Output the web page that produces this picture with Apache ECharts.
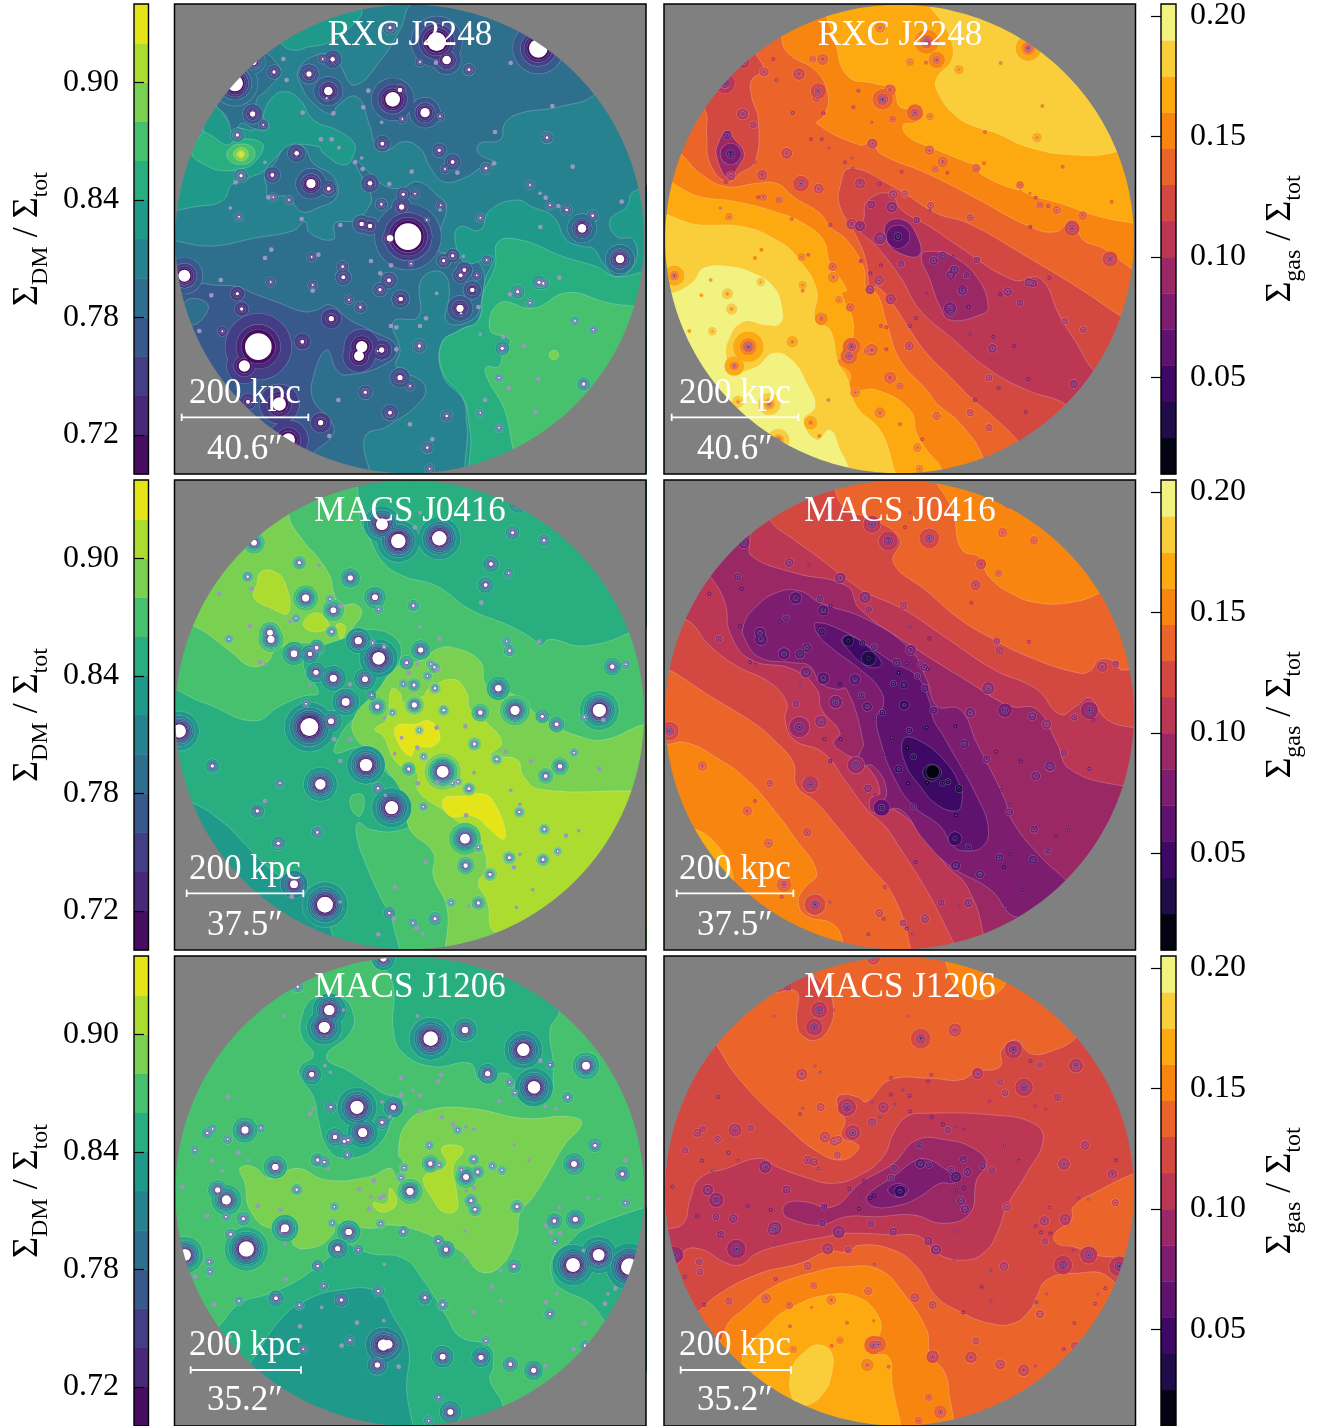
<!DOCTYPE html>
<html><head><meta charset="utf-8">
<style>html,body{margin:0;padding:0;background:#fff}#c{width:1317px;height:1426px}</style>
<script src="https://cdn.jsdelivr.net/npm/echarts@6/dist/echarts.min.js"></script>
</head><body><div id="c"></div>
<script>
// colour bars
const dmEdges=[0.70,0.72,0.74,0.76,0.78,0.80,0.82,0.84,0.86,0.88,0.90,0.92,0.94];
const dmColors=['#470d60','#482878','#433e85','#38598c','#2e6f8e','#26828e','#1f9a8a','#29af7f','#48c16e','#7ad151','#addc30','#e4e419'];
const dmTicks=[0.72,0.78,0.84,0.90];
const gasEdges=[0.01,0.025,0.04,0.055,0.07,0.085,0.10,0.115,0.13,0.145,0.16,0.175,0.19,0.205];
const gasColors=['#030312','#210c4a','#3d0965','#5f136e','#7c1d6f','#9a2865','#bc3754','#d44842','#eb652a','#f8850f','#fcaa0f','#f9ce3a','#f2f281'];
const gasTicks=[0.05,0.10,0.15,0.20];
const clusterNames=['RXC J2248','MACS J0416','MACS J1206'];
const scaleKpc='200 kpc';
const scaleArcsec=['40.6″','37.5″','35.2″'];

// member galaxies [x, y, core size], read in 3x crop pixels
const gal2248=[[265,1040,40],[223,1098,17],[714,710,40],[660,715,10],[575,672,7],[600,678,7],[800,125,28],[830,180,13],[1105,145,28],[668,298,22],[690,270,7],[765,338,14],[475,273,13],[470,295,3],[417,222,8],[488,178,7],[458,177,3],[248,342,8],[312,216,5],[195,250,24],[250,185,10],[340,177,2],[350,240,2],[280,374,3],[202,405,5],[213,527,5],[197,547,2],[380,460,7],[307,525,6],[423,551,14],[476,566,6],[285,487,1],[310,592,3],[295,592,2],[357,600,3],[207,650,3],[395,657,2],[511,675,2],[600,550,7],[634,613,4],[700,583,5],[735,581,3],[695,621,8],[770,660,3],[812,616,3],[637,431,6],[580,322,2],[595,272,2],[490,340,2],[398,338,2],[453,418,2],[485,418,2],[507,443,1],[555,487,2],[578,507,2],[575,474,1],[658,552,2],[725,515,2],[808,451,5],[848,486,6],[825,507,3],[862,518,2],[948,505,4],[972,490,2],[635,367,1],[697,357,3],[810,349,3],[750,186,3],[798,188,2],[897,209,4],[1022,189,2],[660,83,5],[1147,318,2],[975,396,2],[1131,413,4],[1208,500,2],[1080,555,3],[1110,580,1],[1127,593,2],[1140,616,3],[1165,618,2],[1190,630,4],[1268,647,4],[1236,685,13],[1355,605,2],[1111,681,2],[931,653,3],[1350,777,13],[950,780,3],[848,767,5],[821,782,5],[880,769,1],[883,810,6],[872,826,6],[920,826,3],[907,870,7],[870,925,11],[873,940,3],[925,921,2],[1043,875,5],[1020,883,2],[1107,847,5],[1120,850,4],[1080,908,3],[1168,833,2],[1215,963,3],[1270,989,3],[1000,1010,2],[997,1045,5],[1062,1038,2],[931,1003,1],[987,1133,3],[1105,1137,2],[1241,1152,5],[1016,1165,2],[945,1200,2],[931,1238,3],[1097,1237,2],[987,1283,3],[830,1248,4],[772,1343,4],[787,1318,2],[779,1406,3],[720,1273,2],[748,1038,5],[768,955,2],[750,978,2],[663,978,2],[679,982,2],[679,1048,2],[690,1133,8],[720,1158,3],[586,1177,5],[505,1200,2],[660,1238,6],[452,1268,8],[478,1308,2],[328,1212,20],[234,1205,6],[355,1320,20],[484,956,8],[215,927,5],[397,1025,6],[157,994,3],[88,993,2],[124,886,2],[202,881,5],[152,840,2],[43,827,18],[302,846,3],[428,855,3],[428,872,2],[520,832,6],[518,800,4],[537,899,3],[571,922,4],[631,820,2],[657,841,6],[630,869,5],[692,897,7],[663,796,2],[723,791,3],[603,783,2],[425,771,3],[445,764,2],[285,774,2],[304,749,2],[800,880,1],[810,630,1],[575,1040,17],[567,1068,15],[635,1050,8],[623,1053,3],[181,624,1]];
const gal0416=[[636,145,18],[685,195,22],[808,187,22],[750,110,1],[735,154,2],[1028,170,5],[1122,193,4],[963,264,6],[1016,292,3],[947,327,6],[934,380,2],[252,200,9],[388,260,5],[447,268,1],[233,302,4],[245,338,2],[148,353,2],[541,306,8],[407,366,11],[480,369,3],[512,390,2],[490,403,9],[615,364,9],[626,400,3],[730,389,4],[360,437,1],[378,427,3],[240,451,2],[177,489,3],[300,470,9],[303,490,11],[485,467,4],[750,452,1],[808,488,2],[565,494,11],[608,501,3],[642,513,3],[626,547,19],[1010,496,3],[1107,497,2],[1019,524,4],[752,522,8],[372,533,10],[420,534,7],[440,515,6],[270,559,2],[287,565,1],[710,560,5],[782,564,3],[793,574,4],[803,580,2],[741,563,1],[716,590,2],[438,589,8],[490,607,11],[585,610,9],[772,600,3],[700,623,3],[732,627,5],[795,637,4],[420,627,1],[540,625,2],[985,637,10],[1327,572,7],[1367,565,3],[605,658,3],[527,678,12],[622,692,7],[733,687,8],[821,703,4],[931,710,7],[1035,703,14],[1117,721,5],[1160,745,6],[1288,703,20],[1243,724,3],[1300,732,2],[408,683,3],[418,753,27],[483,736,9],[667,710,3],[643,726,1],[748,763,3],[800,755,2],[886,751,2],[695,785,1],[493,790,2],[541,790,2],[913,804,5],[742,815,2],[674,833,1],[761,842,3],[1008,827,2],[1212,830,3],[980,850,4],[1083,856,2],[511,855,2],[588,867,19],[716,879,5],[818,887,18],[1170,871,7],[1127,900,6],[1288,878,2],[28,765,20],[127,870,5],[451,925,16],[330,922,3],[801,920,2],[847,922,3],[864,917,3],[897,938,5],[912,890,1],[624,937,4],[744,922,2],[262,1005,5],[285,975,2],[665,995,20],[646,958,1],[760,992,3],[1048,1008,4],[1022,943,1],[1050,985,1],[888,1018,2],[442,1069,4],[325,1102,5],[885,1088,15],[925,1114,3],[1123,1060,4],[1188,1079,2],[1226,1064,1],[1018,1145,5],[1050,1135,1],[1032,1174,2],[1119,1151,5],[1163,1126,3],[887,1169,7],[960,1195,5],[767,1159,2],[372,1225,12],[365,1262,2],[465,1286,24],[510,1278,1],[675,1233,2],[1088,1241,1],[843,1280,3],[896,1290,1],[925,1281,5],[1039,1294,1],[658,1311,4],[671,1328,2],[795,1328,5],[729,1341,3],[740,1357,2],[758,1373,1],[625,1375,2],[1045,80,8]];
const gal1206=[[640,25,10],[383,110,4],[478,180,16],[463,232,17],[520,180,1],[342,198,1],[743,198,1],[782,266,22],[885,240,10],[1060,299,19],[1140,344,3],[1111,332,2],[1248,347,12],[1092,412,19],[953,371,8],[425,373,8],[465,347,1],[481,367,1],[693,384,2],[814,374,2],[804,394,2],[1019,397,3],[1035,428,3],[175,441,2],[728,421,1],[693,434,2],[749,437,2],[704,462,1],[988,454,1],[1193,442,4],[1126,469,1],[1157,476,1],[561,472,20],[670,472,8],[482,471,4],[428,475,1],[420,493,2],[636,456,1],[660,500,1],[636,517,5],[750,484,2],[815,502,2],[225,540,11],[272,534,3],[128,537,3],[112,549,4],[173,568,3],[578,548,14],[495,561,7],[523,574,5],[535,570,4],[849,523,2],[863,540,3],[888,530,1],[911,538,1],[75,601,3],[205,608,2],[532,615,3],[778,586,3],[1275,586,5],[1033,585,1],[126,632,2],[316,651,10],[443,630,5],[463,636,4],[475,656,1],[157,662,1],[235,631,1],[781,641,7],[807,645,3],[911,628,4],[1212,642,9],[1367,631,2],[967,648,3],[996,661,3],[1076,631,1],[702,653,3],[874,659,3],[888,681,9],[923,666,5],[693,683,3],[612,692,2],[1357,672,6],[37,710,2],[143,720,8],[169,750,14],[380,719,4],[568,717,2],[720,724,11],[912,714,2],[889,722,1],[1255,743,1],[1286,747,1],[1366,758,3],[642,737,2],[631,744,2],[603,740,1],[903,752,5],[915,778,5],[263,767,2],[332,779,2],[493,770,3],[597,776,2],[1041,770,5],[1168,772,1],[111,798,2],[168,800,3],[220,806,5],[487,819,3],[632,821,3],[1216,808,8],[1153,813,6],[345,835,12],[337,842,5],[700,845,4],[536,846,10],[182,853,4],[1127,828,2],[1143,847,2],[1171,850,2],[1155,874,3],[805,873,4],[828,899,7],[885,843,1],[229,897,23],[503,896,8],[565,899,3],[345,882,1],[45,915,18],[118,935,3],[120,965,3],[75,980,2],[443,948,4],[643,943,1],[1032,949,5],[883,927,1],[1209,945,21],[1286,915,18],[1378,950,25],[1240,901,1],[992,961,1],[461,1007,3],[347,987,2],[965,1010,2],[625,1023,4],[318,1045,6],[514,1050,5],[207,1053,3],[765,1043,5],[818,1064,4],[388,1066,3],[1160,1031,1],[1336,1015,2],[1314,1032,1],[1129,1057,2],[1305,1061,2],[993,1053,1],[910,1087,2],[1140,1092,4],[132,1064,2],[455,1072,1],[390,1129,2],[1243,1119,2],[561,1118,2],[641,1112,1],[948,1172,3],[1245,1187,4],[1211,1198,2],[540,1171,3],[515,1187,2],[640,1185,17],[655,1183,13],[400,1198,3],[180,1160,1],[622,1245,8],[686,1250,2],[818,1220,9],[933,1222,8],[1021,1243,6],[1091,1261,8],[1126,1247,1],[806,1342,3],[841,1386,9],[776,1412,3]];
const gasExtra2248=[[212,462,30]];

// contour regions [band index, flat x,y list], painted in order
const dm2248=[
[4,[735,10,1040,40,1300,200,1278,280,1170,320,1050,340,1005,370,990,420,930,430,925,460,980,490,940,500,880,535,820,545,780,500,750,445,700,425,650,450,615,430,600,380,560,290,500,320,490,345,430,310,395,260,385,210,440,165,500,170,510,195,555,255,640,170,690,90]],
[6,[330,120,365,150,420,140,470,130,520,100,575,28,480,0,330,50]],
[6,[-40,617,100,617,160,600,185,555,250,528,280,515,300,490,360,440,445,440,460,460,525,495,555,450,545,420,500,390,430,360,390,300,345,275,300,300,260,385,215,385,180,370,140,320,60,300,-40,460]],
[7,[100,382,65,458,110,497,160,512,220,505,250,490,280,440,255,420,200,420,170,435,130,410,60,370]],
[8,[170,463,185,440,213,432,245,440,255,463,240,487,213,493,185,487]],
[9,[190,463,200,447,213,443,228,447,235,463,228,478,213,483,200,478]],
[10,[200,463,207,453,213,451,221,455,224,463,220,472,213,475,206,472]],
[11,[206,463,213,456,220,463,213,470]],
[4,[140,310,200,250,240,200,280,160,320,190,330,220,290,270,260,300,265,340,295,370,290,390,250,385,215,370,190,400,170,350]],
[4,[-50,735,130,738,250,715,370,692,405,665,420,700,490,718,495,670,555,660,600,615,600,575,565,510,555,480,590,510,640,555,690,565,745,545,800,585,830,620,800,745,870,765,935,800,935,900,905,960,830,965,838,880,825,825,785,815,750,850,745,950,670,965,690,1050,680,1100,760,1150,755,1200,650,1280,585,1310,580,1450,0,1450,-50,900]],
[4,[285,525,310,495,350,440,400,440,430,490,490,530,500,590,440,625,395,635,350,590,295,590,290,560]],
[3,[-40,860,90,850,130,855,200,860,250,880,330,910,400,935,440,930,480,915,540,960,600,990,680,1040,650,1090,530,1125,500,1110,470,1050,430,1130,430,1200,480,1260,490,1300,430,1360,350,1450,-40,1450]],
[4,[45,905,90,898,115,925,70,975,45,940]],
[6,[1500,560,1390,575,1370,620,1320,660,1340,710,1390,720,1395,790,1340,830,1300,790,1270,745,1240,740,1190,720,1150,650,1085,620,1040,600,960,630,930,690,870,680,855,720,890,790,970,770,945,840,925,960,870,990,815,1030,820,1130,880,1200,890,1270,920,1450,1500,1450]],
[7,[1500,820,1340,830,1280,800,1180,770,1060,722,985,725,975,800,940,880,925,960,870,990,815,1030,820,1120,880,1195,900,1290,930,1450,1500,1450]],
[8,[990,908,1090,925,1190,878,1300,905,1450,950,1320,1120,1220,1260,1060,1380,1000,1220,950,1130,950,1100,985,1100,1000,1060,1020,1020,960,990]],
[9,[1138,1065,1142,1055,1152,1051,1162,1055,1166,1065,1162,1075,1152,1079,1142,1075]]
];
const gas2248=[
[10,[515,-20,530,140,565,230,640,250,700,270,720,320,780,330,770,365,730,375,745,410,820,445,930,490,965,500,960,520,1075,570,1080,550,1090,575,1200,610,1320,650,1425,670,1500,680,1500,-20]],
[11,[810,-20,870,110,875,180,830,235,835,280,890,350,960,385,1010,400,1100,440,1240,465,1370,455,1500,400,1500,-20]],
[10,[-30,545,120,590,230,605,360,640,430,670,490,720,510,790,560,870,545,880,580,970,560,1060,530,1085,570,1120,570,1170,650,1170,750,1230,770,1300,800,1350,845,1410,845,1500,-30,1500]],
[11,[-30,660,120,675,250,680,350,720,410,770,470,870,465,960,510,990,535,1090,560,1130,590,1220,660,1290,700,1400,720,1500,-30,1500]],
[12,[-30,885,35,880,100,845,130,805,210,800,280,820,340,860,365,920,360,970,320,975,250,965,205,1020,200,1080,220,1115,290,1100,340,1060,395,1080,440,1150,465,1220,430,1260,470,1320,510,1290,540,1350,565,1405,580,1500,-30,1500]],
[8,[-30,-30,365,-30,365,108,385,160,470,215,505,290,490,350,470,370,600,435,640,425,660,460,800,520,930,585,1110,680,1190,695,1235,660,1270,720,1330,745,1420,810,1500,860,1500,1500,990,1500,970,1375,900,1270,830,1210,800,1170,720,1080,680,970,650,880,620,870,610,800,560,720,510,680,480,640,400,590,350,550,290,550,200,560,120,520,60,460,-30,400]],
[7,[135,330,140,400,150,490,200,545,240,520,285,485,295,360,275,290,275,240,310,210,290,165,240,60,60,240]],
[5,[200,392,225,420,252,460,235,500,205,535,170,470,175,430]],
[7,[570,505,700,560,830,640,925,670,1100,770,1250,860,1385,950,1500,1020,1500,1500,1120,1400,1075,1325,1000,1250,940,1200,870,1130,800,1060,750,990,690,900,650,860,630,870,620,790,590,710,540,620,540,560]],
[6,[620,605,690,580,725,630,810,680,890,735,1060,840,1140,835,1200,950,1250,1030,1300,1110,1500,1300,1300,1300,1220,1215,1100,1170,990,1110,870,1010,780,930,720,830,650,740,590,680,610,660]],
[4,[680,670,730,660,770,705,778,765,720,760,680,720]],
[5,[785,765,830,755,880,770,950,830,985,920,960,945,870,960,840,920,810,840]]
];
const dm0416=[
[7,[600,-30,570,120,600,190,640,260,700,300,800,330,900,400,1020,450,1090,490,1110,510,1140,490,1240,510,1380,470,1500,400,1500,-30]],
[9,[355,-30,355,115,400,195,440,240,480,300,490,345,510,385,555,385,575,410,540,470,530,520,500,545,470,520,400,500,320,520,290,560,240,570,180,525,70,450,-30,430,-30,-30]],
[10,[270,290,310,285,345,320,355,410,300,395,252,365,262,320]],
[10,[400,440,440,410,475,440,470,460,420,465]],
[10,[500,445,525,450,515,490,505,470]],
[7,[-30,650,100,680,250,735,330,690,400,660,445,650,400,570,420,530,540,480,600,460,680,490,690,550,640,620,620,680,550,730,510,780,495,830,560,815,610,820,640,880,690,930,720,1040,680,1065,600,1060,565,1040,560,1080,590,1170,640,1280,665,1320,665,1500,-30,1500]],
[8,[545,960,580,960,570,1020,545,1000]],
[6,[-30,960,65,980,160,1040,230,1110,290,1170,350,1210,420,1240,480,1350,480,1500,-30,1500]],
[9,[550,730,625,640,680,575,760,550,800,520,850,515,930,555,950,630,1030,655,1120,730,1240,785,1310,790,1425,745,1500,745,1500,1500,860,1500,830,1290,790,1200,790,1130,720,1060,700,960,650,880,610,830,560,790]],
[10,[665,640,690,650,700,680,760,660,775,640,850,610,890,650,900,700,950,740,995,800,960,840,1040,850,1060,900,1110,940,1390,945,1500,950,1500,1300,985,1370,950,1270,925,1220,950,1180,930,1100,830,1010,745,945,740,890,680,860,640,780,615,760,650,730]],
[11,[680,750,735,745,780,735,810,780,790,810,740,815,720,840,680,790]],
[11,[820,970,880,960,945,955,975,985,1005,1060,1000,1090,960,1060,910,1020,840,1020]]
];
const gas0416=[
[9,[830,-30,880,110,905,220,960,245,985,300,1050,350,1130,380,1240,378,1320,350,1500,250,1500,-30]],
[9,[-30,805,20,805,80,800,170,845,260,910,340,1000,400,1080,470,1190,430,1240,415,1280,440,1320,520,1345,550,1405,560,1500,-30,1500]],
[10,[100,1060,220,1215,100,1300,20,1200]],
[7,[-30,-30,525,-30,525,40,560,100,640,130,720,190,700,260,800,345,900,430,1000,490,1100,540,1250,590,1290,585,1320,550,1370,560,1380,580,1420,580,1500,580,1500,1500,755,1500,750,1410,700,1260,620,1160,530,1050,470,980,410,930,400,860,340,790,280,740,150,660,25,580,-30,560]],
[6,[-30,430,75,430,150,510,230,570,330,620,380,680,375,730,400,790,490,830,560,920,620,1000,690,1070,880,1400,890,1500,1500,1500,1500,755,1425,755,1340,730,1290,665,1250,690,1200,715,1130,640,1000,580,850,480,730,400,620,350,560,310,470,240,400,190,330,130,330,60,-30,130]],
[5,[150,300,100,250,270,150,270,190,275,240,400,290,560,330,600,400,740,500,930,620,1050,690,1130,700,1190,800,1230,880,1390,930,1500,930,1500,1500,970,1500,970,1375,920,1230,860,1170,800,1090,700,1000,640,1010,630,970,660,950,620,870,550,830,520,800,540,770,485,700,470,640,400,580,270,550,210,470,195,380]],
[4,[250,450,280,400,350,350,420,345,480,380,620,430,750,520,800,610,830,690,900,700,950,800,1030,960,1060,1040,1140,1140,1220,1215,1300,1300,1075,1325,990,1240,870,1170,790,1090,720,1000,650,1010,680,950,640,870,590,870,600,830,610,800,560,640,530,640,480,620,450,570,400,560,300,545,255,490]],
[3,[470,440,560,470,640,520,700,560,770,600,810,680,820,730,850,780,960,980,985,1060,970,1110,920,1125,880,1110,840,1050,760,990,700,900,660,790,650,720,670,690,660,640,600,580,520,520,470,470]],
[2,[730,790,770,790,850,850,900,930,905,980,890,1005,830,985,780,930,735,860]],
[2,[545,490,570,480,620,510,665,560,650,575,610,565,560,515]],
[1,[790,880,820,865,845,890,820,915,795,905]]
];
const dm1206=[
[7,[580,-30,640,50,670,110,670,240,700,310,790,350,900,340,930,390,1010,370,1050,430,1130,450,1150,360,1140,240,1165,175,1000,-30]],
[7,[395,200,430,145,510,140,550,190,540,250,470,320,540,365,610,410,640,430,700,450,680,480,620,590,520,625,470,590,445,510,430,440,390,380,390,350,430,315,395,260]],
[7,[100,1170,145,1130,210,1060,300,1030,400,980,500,900,510,875,600,910,700,925,760,990,830,1100,870,1160,960,1190,970,1250,960,1290,1000,1370,1000,1500,100,1500]],
[6,[180,1300,240,1240,330,1110,410,1050,510,1020,620,1025,670,1100,715,1190,710,1300,700,1500,180,1500]],
[7,[1500,750,1430,770,1240,840,1200,875,1150,920,1150,990,1180,1020,1260,1060,1310,1120,1500,1300]],
[9,[685,610,710,520,780,480,900,475,1060,505,1200,500,1235,520,1180,590,1140,660,1090,740,1050,790,1040,860,990,950,930,965,880,910,830,880,740,840,660,825,600,835,500,820,490,850,440,890,370,885,380,820,300,835,240,780,225,700,210,655,250,650,300,685,380,655,470,690,600,680,660,655,680,680,700,640]],
[10,[815,595,850,585,880,600,850,650,860,730,860,780,820,785,790,750,760,690,780,665,830,645]],
[10,[610,760,650,760,660,715,680,750,670,775,630,785]]
];
const gas1206=[
[8,[170,285,240,390,380,530,480,610,545,630,590,605,595,585,545,560,555,510,530,460,540,435,590,440,620,455,690,390,810,385,900,390,950,365,1020,350,1025,300,1070,270,1110,310,1170,305,1250,262,1500,0,0,0]],
[7,[345,125,410,125,410,210,425,255,470,270,510,230,520,170,500,120,420,60]],
[9,[870,-30,880,100,940,145,1000,135,1040,90,1050,-30]],
[8,[1500,650,1425,670,1320,720,1240,770,1235,810,1185,850,1190,880,1240,890,1340,920,1500,900]],
[8,[115,1085,180,1030,300,970,420,940,500,905,560,905,600,885,700,900,770,950,830,1040,900,1085,990,1120,1060,1120,1110,1080,1130,1040,1160,990,1240,970,1350,985,1500,1200,1000,1500,60,1500,40,1150]],
[9,[195,1140,260,1070,340,1010,450,970,560,950,660,960,730,1030,800,1140,810,1210,855,1270,870,1350,880,1410,880,1500,100,1500]],
[10,[245,1240,330,1120,400,1070,500,1035,590,1040,650,1090,660,1150,620,1180,640,1210,685,1220,695,1280,695,1500,300,1500]],
[11,[395,1260,440,1200,480,1185,515,1210,515,1270,490,1330,440,1365,400,1350]],
[6,[-30,945,50,945,75,900,130,900,190,935,240,945,290,910,370,885,500,860,560,850,700,855,780,860,830,910,920,930,980,900,1015,840,1040,770,1100,670,1150,570,1120,520,1000,495,800,490,740,500,700,550,670,620,600,675,520,700,430,680,350,650,300,625,200,655,120,685,90,750,70,820,20,840,-30,870]],
[5,[380,760,430,755,520,770,600,700,700,640,770,570,860,570,940,595,980,640,950,690,930,790,850,820,760,795,650,800,560,800,480,825,400,810,370,790]],
[4,[620,740,700,680,770,630,810,630,860,660,900,680,880,700,840,700,780,740,720,765,640,770]],
[3,[683,720,715,700,745,720,715,742]]
];

const SERIF='"Liberation Serif",serif';
const colLeft=[174.5,664], rowTop=[4,480,956], boxW=471.5, boxH=470;
const originX=[170,660], originY=[0,476,950];
const barX=[134,1161], barW=[14.5,15];
const circleCY=[717,717,724], circleCX=[719,718.5], R=703;
const barEnds=[[35,415],[50,400],[62,393]], barY=[1252,1252,1260], kpcY=[1181,1181,1186], arcY=[1350,1350,1352];
const clusters=[
 {gal:gal2248,dm:dm2248,dmBase:5,gas:gas2248,gasBase:9,gasExtra:gasExtra2248},
 {gal:gal0416,dm:dm0416,dmBase:8,gas:gas0416,gasBase:8,gasExtra:[]},
 {gal:gal1206,dm:dm1206,dmBase:8,gas:gas1206,gasBase:7,gasExtra:[]}];

function pairs(f){const o=[];for(let i=0;i<f.length;i+=2)o.push([f[i],f[i+1]]);return o;}
function inside(pt,poly){let c=false;for(let i=0,j=poly.length-1;i<poly.length;j=i++){
  const a=poly[i],b=poly[j];
  if((a[1]>pt[1])!==(b[1]>pt[1])&&pt[0]<(b[0]-a[0])*(pt[1]-a[1])/(b[1]-a[1])+a[0])c=!c;}return c;}

const grid=[],xAxis=[],yAxis=[],series=[],title=[];
let gi=0;
function addCustom(idx,data,render,z,clip){series.push({type:'custom',xAxisIndex:idx,yAxisIndex:idx,coordinateSystem:'cartesian2d',
  data:data,renderItem:render,z:z,silent:true,clip:clip!==false,animation:false,encode:{x:0,y:1}});}

function addPanel(row,col){
  const cl=clusters[row], isDM=col===0;
  const colors=isDM?dmColors:gasColors;
  const polys=(isDM?cl.dm:cl.gas).map(p=>({level:p[0],pts:pairs(p[1])}));
  const base=isDM?cl.dmBase:cl.gasBase;
  const left=colLeft[col],top=rowTop[row];
  const xmin=(left-originX[col])*3,ymin=(top-originY[row])*3;
  const xmax=xmin+boxW*3,ymax=ymin+boxH*3;
  const cx=circleCX[col],cy=circleCY[row];
  const idx=gi++;
  grid.push({left:left,top:top,width:boxW,height:boxH,show:true,backgroundColor:'#808080',borderWidth:0,containLabel:false,outerBoundsMode:'none'});
  xAxis.push({type:'value',gridIndex:idx,min:xmin,max:xmax,show:false});
  yAxis.push({type:'value',gridIndex:idx,min:ymin,max:ymax,inverse:true,show:false});
  // filled contours
  const fills=[{level:base,circle:true}].concat(polys);
  addCustom(idx,fills.map((p,i)=>[cx,cy,i]),function(params,api){
    const p=fills[params.dataIndex];
    if(p.circle){const c=api.coord([cx,cy]);
      return {type:'circle',shape:{cx:c[0],cy:c[1],r:api.size([R+3,R+3])[0]},style:{fill:colors[p.level]}};}
    return {type:'polygon',shape:{points:p.pts.map(q=>api.coord(q)),smooth:0.45},
      style:{fill:colors[p.level],stroke:'rgba(255,255,255,0.3)',lineWidth:0.7}};
  },2);
  // depressions around member galaxies
  const levelAt=pt=>{let l=base;polys.forEach(p=>{if(inside(pt,p.pts))l=p.level;});return l;};
  const rings=[],dots=[],cores=[];
  const list=isDM?cl.gal:cl.gal.concat(cl.gasExtra);
  list.forEach(g=>{
    const x=g[0],y=g[1],c=g[2],b=levelAt([x,y]);
    if(c<=2){dots.push([x,y,(isDM?4:3)+c*1.5,isDM?-1:Math.max(b-2,0)]);
      if(!isDM)dots.push([x,y,2,-1]);return;}
    if(isDM){
      const Rout=6.5*Math.pow(c,0.74),n=b;
      for(let k=0;k<n;k++)rings.push([x,y,Rout*Math.pow(c/Rout,Math.pow(k/n,0.75)),b-1-k]);
      cores.push([x,y,c]);
    }else{
      const Rout=7.5*Math.sqrt(c)*(0.6+0.4*b/12),n=Math.max(2,Math.min(Math.round(2+c*0.3),b));
      for(let k=0;k<n;k++){const lv=b-1-k;if(lv>=0)rings.push([x,y,Rout*Math.pow(1.5/Rout,Math.pow(k/n,0.75)),lv]);}
    }
  });
  const ringRows=[];
  for(let l=colors.length-1;l>=0;l--){
    const set=rings.filter(r=>r[3]===l);
    set.forEach(r=>ringRows.push([r[0],r[1],r[2],l,1]));
    set.forEach(r=>ringRows.push([r[0],r[1],r[2],l,0]));
  }
  addCustom(idx,ringRows,function(params,api){
    const c=api.coord([api.value(0),api.value(1)]),s=api.value(2),l=api.value(3),st=api.value(4);
    const r=api.size([s,s])[0];
    return st?{type:'circle',shape:{cx:c[0],cy:c[1],r:r+0.3},style:{fill:'rgba(215,215,235,0.42)'}}
             :{type:'circle',shape:{cx:c[0],cy:c[1],r:Math.max(r-0.1,0.2)},style:{fill:colors[l]}};
  },3);
  addCustom(idx,dots,function(params,api){
    const c=api.coord([api.value(0),api.value(1)]),s=api.value(2),l=api.value(3);
    return {type:'circle',shape:{cx:c[0],cy:c[1],r:api.size([s,s])[0]},
      style:{fill:l<0?'#9c97c0':colors[l]}};
  },4);
  if(isDM)addCustom(idx,cores,function(params,api){
    const c=api.coord([api.value(0),api.value(1)]),s=api.value(2);
    return {type:'circle',shape:{cx:c[0],cy:c[1],r:api.size([s,s])[0]},style:{fill:'#fff'}};
  },5);
  // grey surround of the circular field
  addCustom(idx,[[cx,cy,-1],[cx,cy,1]],function(params,api){
    const side=api.value(2),pts=[],edge=side<0?xmin:xmax,seam=cx-side*2;
    pts.push([edge,ymin],[seam,ymin]);
    const n=120;
    for(let i=0;i<=n;i++){
      const t=-Math.PI/2+(i/n)*Math.PI;
      pts.push([cx+side*R*Math.cos(t),cy+R*Math.sin(t)]);
    }
    pts.push([seam,ymax],[edge,ymax]);
    return {type:'polygon',shape:{points:pts.map(q=>api.coord(q))},style:{fill:'#808080'}};
  },6);
  // frame, scale bar, labels
  const ends=barEnds[row],by=barY[row];
  addCustom(idx,[[ends[0],by,ends[1]]],function(params,api){
    const a=api.coord([ends[0],by]),b=api.coord([ends[1],by]),t=api.size([33,33])[1];
    const ln=(p,q)=>({type:'line',shape:{x1:p[0],y1:p[1],x2:q[0],y2:q[1]},style:{stroke:'#fff',lineWidth:1.8}});
    const tl=api.coord([xmin,ymin]),br=api.coord([xmax,ymax]);
    const lab=(x,y,s)=>{const c=api.coord([x,y]);return {type:'text',x:c[0],y:c[1],
      style:{text:s,fill:'#fff',fontFamily:SERIF,fontSize:35,textAlign:'center',textVerticalAlign:'middle'}};};
    return {type:'group',children:[
      {type:'rect',shape:{x:tl[0],y:tl[1],width:br[0]-tl[0],height:br[1]-tl[1]},style:{fill:'none',stroke:'#000',lineWidth:1.5}},
      ln(a,b),ln([a[0],a[1]-t/3],[a[0],a[1]+t/3]),ln([b[0],b[1]-t/3],[b[0],b[1]+t/3]),
      lab(225,kpcY[row],scaleKpc),lab(225,arcY[row],scaleArcsec[row])
    ]};
  },7,false);
  title.push({text:clusterNames[row],left:originX[col]+240,top:originY[row]+(row===2?105:100)/3-15,textAlign:'center',padding:0,
    textStyle:{color:'#fff',fontFamily:SERIF,fontSize:35,fontWeight:'normal'},z:9});
}
function addBar(row,col){
  const isDM=col===0,edges=isDM?dmEdges:gasEdges,colors=isDM?dmColors:gasColors,ticks=isDM?dmTicks:gasTicks;
  const idx=gi++;
  grid.push({left:barX[col],top:rowTop[row],width:barW[col],height:boxH,show:false,containLabel:false,outerBoundsMode:'none'});
  xAxis.push({type:'value',gridIndex:idx,min:0,max:1,show:false});
  const lo=edges[0],hi=edges[edges.length-1];
  yAxis.push({type:'value',gridIndex:idx,min:lo,max:hi,position:isDM?'left':'right',
    axisLine:{show:false},splitLine:{show:false},
    axisTick:{show:true,inside:true,length:10,customValues:ticks,lineStyle:{color:'#000',width:1.2}},
    axisLabel:{show:true,customValues:ticks,margin:isDM?15:14,color:'#000',fontFamily:SERIF,fontSize:32,
      formatter:v=>v.toFixed(2)},
    name:isDM?'{s|Σ}{b|DM}{s| / Σ}{b|tot}':'{s|Σ}{b|gas}{s| / Σ}{b|tot}',
    nameLocation:'middle',nameRotate:90,nameGap:isDM?88:87,
    nameTextStyle:{color:'#000',fontFamily:SERIF,fontSize:36,
      rich:{s:{fontFamily:SERIF,fontSize:36,color:'#000',verticalAlign:'bottom'},
            b:{fontFamily:SERIF,fontSize:24,color:'#000',verticalAlign:'bottom',padding:[0,0,-7,0]}}},
    z:8});
  const rows=colors.map((c,i)=>[0.5,edges[i],edges[i+1]]);
  addCustom(idx,rows,function(params,api){
    const i=params.dataIndex;
    const a=api.coord([0,edges[i+1]]),b=api.coord([1,edges[i]]);
    return {type:'rect',shape:{x:a[0],y:a[1],width:b[0]-a[0],height:b[1]-a[1]+0.4},style:{fill:colors[i]}};
  },2,false);
  addCustom(idx,[[0.5,lo]],function(params,api){
    const a=api.coord([0,hi]),b=api.coord([1,lo]);
    return {type:'rect',shape:{x:a[0],y:a[1],width:b[0]-a[0],height:b[1]-a[1]},style:{fill:'none',stroke:'#000',lineWidth:1.4}};
  },3,false);
}
for(let r=0;r<3;r++){addBar(r,0);addPanel(r,0);addPanel(r,1);addBar(r,1);}
const chart=echarts.init(document.getElementById('c'),null,{renderer:'canvas',width:1317,height:1426});
chart.setOption({animation:false,backgroundColor:'#fff',title,grid,xAxis,yAxis,series});
</script></body></html>
